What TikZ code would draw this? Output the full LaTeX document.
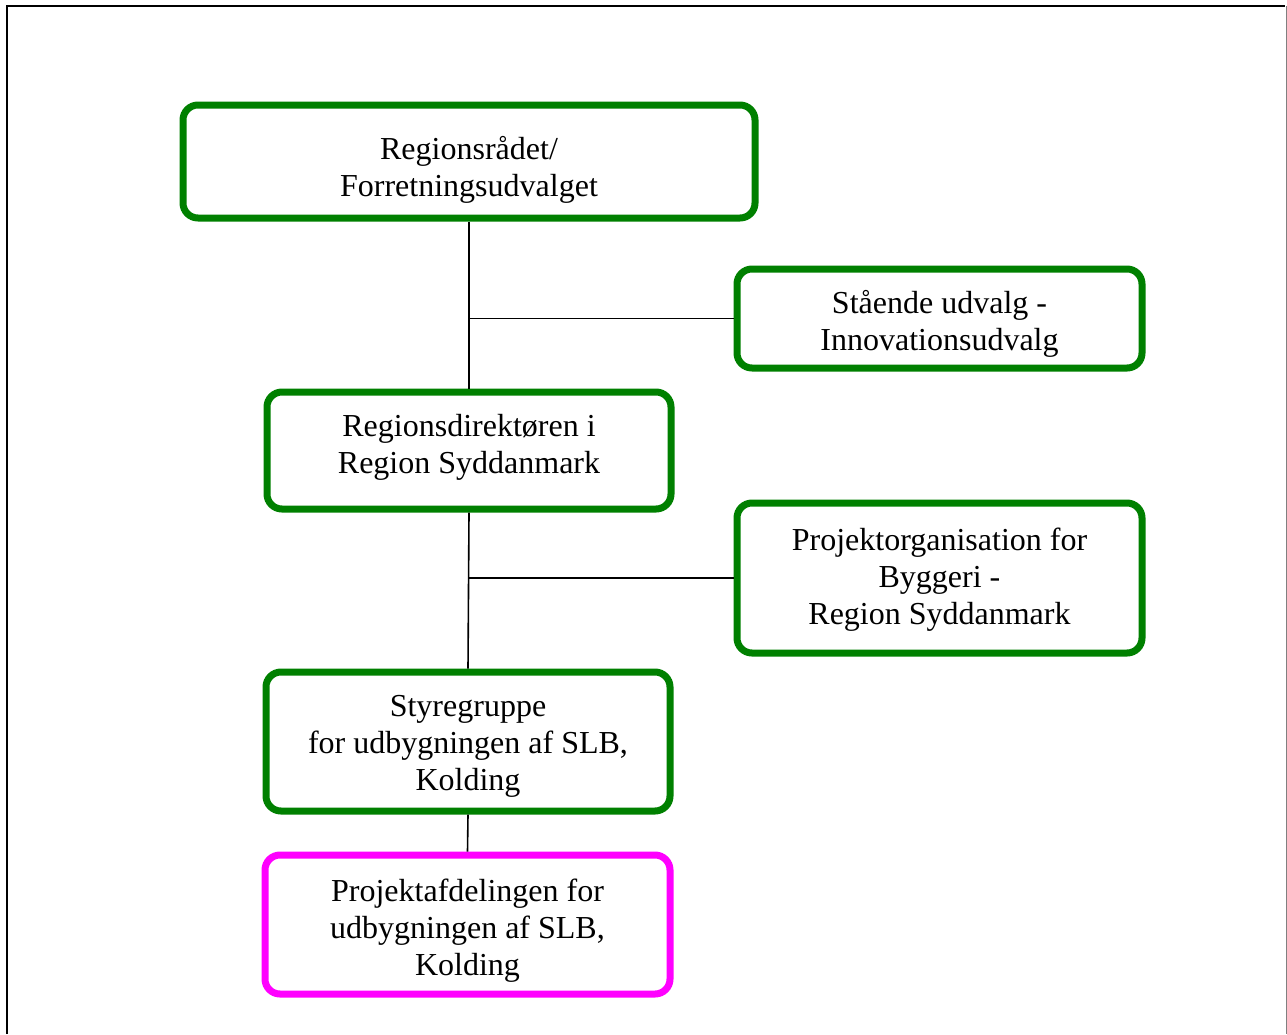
\documentclass[tikz,border=0pt]{standalone}
\usepackage{fontspec}
\setmainfont{Liberation Serif}
\definecolor{boxgreen}{HTML}{008000}
\definecolor{boxmagenta}{HTML}{FF00FF}
\newcommand\topstrut{\rule{0pt}{25pt}}
\newcommand\botstrut{\rule[-8pt]{0pt}{8pt}}
\tikzset{
  orgbox/.style={draw=boxgreen, line width=7pt, rounded corners=15pt, fill=white, inner sep=0pt},
  boxtext/.style={anchor=north, align=center, font=\fontsize{32}{37}\selectfont, inner sep=0pt},
  link/.style={draw=black, line width=1.6pt}
}
\begin{document}
\begin{tikzpicture}[x=1pt,y=-1pt]
\useasboundingbox (0,0) rectangle (1287,1034);
% frame
\draw[line width=2.5pt] (7,1034) -- (7,6) -- (1285,6);
\draw[gray, line width=1pt] (1286,6) -- (1286,1034);

\node[orgbox, minimum width=572pt, minimum height=113pt] (b1) at (469,161.5) {};
\node[orgbox, minimum width=405pt, minimum height=99pt] (b2) at (939.5,318.5) {};
\node[orgbox, minimum width=404pt, minimum height=117pt] (b3) at (469,450.5) {};
\node[orgbox, minimum width=405pt, minimum height=150pt] (b4) at (939.5,578) {};
\node[orgbox, minimum width=404pt, minimum height=139pt] (b5) at (468,741.5) {};
\node[orgbox, draw=boxmagenta, minimum width=405pt, minimum height=139pt] (b6) at (467.5,924.5) {};

% texts: anchor north = first baseline - 25
\node[boxtext] (t1) at (469,134) {\topstrut Regionsrådet/\\Forretningsudvalget\botstrut};
\node[boxtext] (t2) at (939.5,288) {\topstrut Stående udvalg -\\Innovationsudvalg\botstrut};
\node[boxtext] (t3) at (469,411) {\topstrut Regionsdirektøren i\\Region Syddanmark\botstrut};
\node[boxtext] (t4) at (939.5,525) {\topstrut Projektorganisation for\\Byggeri -\\Region Syddanmark\botstrut};
\node[boxtext] (t5) at (468,691) {\topstrut Styregruppe\\for udbygningen af SLB,\\Kolding\botstrut};
\node[boxtext] (t6) at (467.5,876) {\topstrut Projektafdelingen for\\udbygningen af SLB,\\Kolding\botstrut};

\coordinate (j1) at (b1.south |- b2.west);
\coordinate (j2) at (b3.south |- b4.west);
\draw[link] (b1.south) -- (b3.north);
\draw[link] (j1) -- (b2.west);
\draw[link] (b3.south) -- (b5.north);
\draw[link] (j2) -- (b4.west);
\draw[link] (b5.south) -- (b6.north);
\end{tikzpicture}
\end{document}
